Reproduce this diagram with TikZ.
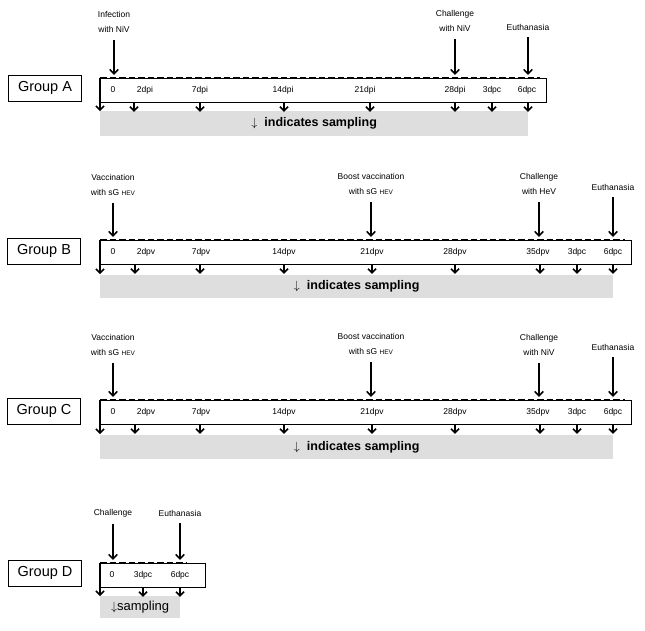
\documentclass[tikz,border=0pt]{standalone}
\usepackage{fontspec}
\setmainfont{Liberation Sans}
\usetikzlibrary{arrows.meta}

\newcommand{\hevfont}{\fontsize{6.5}{8}\selectfont}

\tikzset{
    grp/.style={draw, line width=0.7pt, minimum width=73pt, minimum height=26pt, inner sep=0pt, font=\fontsize{14.5}{16}\selectfont},
    tline/.style={draw, line width=0.8pt, anchor=north west, minimum height=24pt, inner sep=0pt},
    dashtop/.style={line width=2.8pt, dash pattern=on 6.5pt off 3pt},
    evt/.style={line width=1.5pt, -{Straight Barb[length=4.5pt,width=8.5pt]}, shorten <=5pt, shorten >=3pt},
    tick/.style={line width=1.5pt, -{Straight Barb[length=4pt,width=8pt]}},
    lbl/.style={font=\fontsize{8.5}{15}\selectfont, align=center, inner sep=2pt},
    day/.style={font=\fontsize{8.5}{10}\selectfont, inner sep=1pt},
    samp/.style={fill=black!13, anchor=north west, inner sep=0pt, minimum height=25pt, font=\fontsize{12.5}{14}\selectfont},
}

\begin{document}
\begin{tikzpicture}[x=1pt, y=-1pt]

    \useasboundingbox (0,0) rectangle (645,630);

    % Group A: infection, challenge after 28 days
    \node[grp] (gA) at (45,88) {Group A};
    \node[samp, minimum width=428pt] (sA) at (100,111) {$\downarrow$\hspace{7pt}\textbf{indicates sampling}};
    \node[tline, minimum width=446pt] (tA) at (100,78) {};
    \draw[dashtop] (tA.north west) -- ++(440,0);
    \foreach \x/\t [count=\i] in {113/0, 145/2dpi, 200/7dpi, 283/14dpi, 365/21dpi, 455/28dpi, 492/3dpc, 527/6dpc}
        \node[day] (dA\i) at (\x,90) {\t};
    \draw[tick] (tA.north west) -- ++(0,33);
    \foreach \x in {134, 200, 284, 370, 455, 492, 528}
        \draw[tick] (\x,0 |- tA.south) -- ++(0,9);

    \node[lbl] (infA) at (114,22) {Infection\\with NiV};
    \node[lbl] (chalA) at (455,21) {Challenge\\with NiV};
    \node[lbl] (euthA) at (528,27) {Euthanasia};
    \foreach \e in {infA, chalA, euthA}
        \draw[evt] (\e.south) -- (\e.south |- tA.north);

    % Group B: vaccination, boost, challenge with HeV
    \node[grp] (gB) at (44,251) {Group B};
    \node[samp, minimum width=513pt, minimum height=23pt] (sB) at (100,275) {$\downarrow$\hspace{7pt}\textbf{indicates sampling}};
    \node[tline, minimum width=531pt] (tB) at (100,240) {};
    \draw[dashtop] (tB.north west) -- ++(525,0);
    \foreach \x/\t [count=\i] in {113/0, 146/2dpv, 201/7dpv, 284/14dpv, 372/21dpv, 455/28dpv, 538/35dpv, 577/3dpc, 613/6dpc}
        \node[day] (dB\i) at (\x,252) {\t};
    \draw[tick] (tB.north west) -- ++(0,34);
    \foreach \x in {135, 200, 284, 372, 455, 540, 577, 613}
        \draw[tick] (\x,0 |- tB.south) -- ++(0,9);

    \node[lbl] (vacB) at (113,185) {Vaccination\\with sG {\hevfont HEV}};
    \node[lbl] (boostB) at (371,184) {Boost vaccination\\with sG {\hevfont HEV}};
    \node[lbl] (chalB) at (539,184) {Challenge\\with HeV};
    \node[lbl] (euthB) at (613,187) {Euthanasia};
    \foreach \e in {vacB, boostB, chalB, euthB}
        \draw[evt] (\e.south) -- (\e.south |- tB.north);

    % Group C: vaccination, boost, challenge with NiV
    \node[grp] (gC) at (44,411) {Group C};
    \node[samp, minimum width=513pt, minimum height=24pt] (sC) at (100,435) {$\downarrow$\hspace{7pt}\textbf{indicates sampling}};
    \node[tline, minimum width=531pt] (tC) at (100,400) {};
    \draw[dashtop] (tC.north west) -- ++(525,0);
    \foreach \x/\t [count=\i] in {113/0, 146/2dpv, 201/7dpv, 284/14dpv, 372/21dpv, 455/28dpv, 538/35dpv, 577/3dpc, 613/6dpc}
        \node[day] (dC\i) at (\x,412) {\t};
    \draw[tick] (tC.north west) -- ++(0,34);
    \foreach \x in {135, 200, 284, 372, 455, 540, 577, 613}
        \draw[tick] (\x,0 |- tC.south) -- ++(0,9);

    \node[lbl] (vacC) at (113,345) {Vaccination\\with sG {\hevfont HEV}};
    \node[lbl] (boostC) at (371,344) {Boost vaccination\\with sG {\hevfont HEV}};
    \node[lbl] (chalC) at (539,345) {Challenge\\with NiV};
    \node[lbl] (euthC) at (613,347) {Euthanasia};
    \foreach \e in {vacC, boostC, chalC, euthC}
        \draw[evt] (\e.south) -- (\e.south |- tC.north);

    % Group D: challenge only
    \node[grp] (gD) at (45,573) {Group D};
    \node[samp, minimum width=80pt, minimum height=22pt, font=\fontsize{13}{14}\selectfont] (sD) at (100,596) {$\downarrow$sampling};
    \node[tline, minimum width=105pt] (tD) at (100,563) {};
    \draw[dashtop] (tD.north west) -- ++(87,0);
    \foreach \x/\t [count=\i] in {112/0, 143/3dpc, 180/6dpc}
        \node[day] (dD\i) at (\x,575) {\t};
    \draw[tick] (tD.north west) -- ++(0,33);
    \foreach \x in {143, 180}
        \draw[tick] (\x,0 |- tD.south) -- ++(0,9);

    \node[lbl] (chalD) at (113,513) {Challenge};
    \node[lbl] (euthD) at (180,513) {Euthanasia};
    \foreach \e in {chalD, euthD}
        \draw[evt] (\e.south) -- (\e.south |- tD.north);

\end{tikzpicture}
\end{document}
